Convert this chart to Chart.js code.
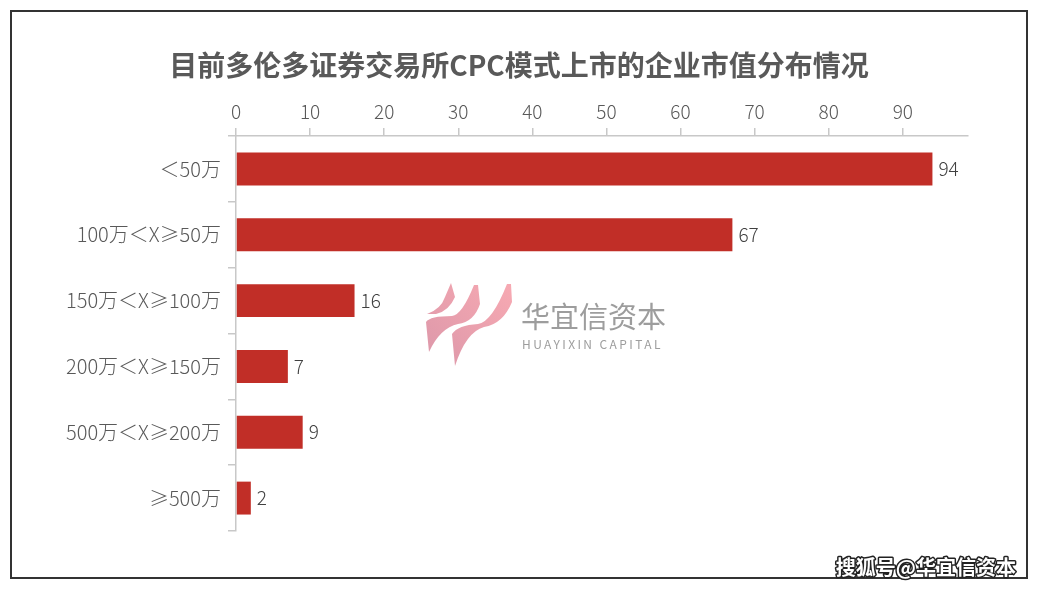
<!DOCTYPE html>
<html>
<head>
<meta charset="utf-8">
<script src="https://cdn.jsdelivr.net/npm/chart.js@4/dist/chart.umd.min.js"></script>
<style>
html,body{margin:0;padding:0;background:#fff;}
#wrap{width:1038px;height:590px;position:relative;}
</style>
</head>
<body>
<div id="wrap"><canvas id="c" width="1038" height="590"></canvas></div>
<script>
const chartTitle = '目前多伦多证券交易所CPC模式上市的企业市值分布情况';
const categories = ['＜50万', '100万＜X≥50万', '150万＜X≥100万', '200万＜X≥150万', '500万＜X≥200万', '≥500万'];
const values = [94, 67, 16, 7, 9, 2];
const axisMax = 98.8;
const tickStep = 10;
const watermarkCn = '华宜信资本';
const watermarkEn = 'HUAYIXIN CAPITAL';
const sourceMark = '搜狐号@华宜信资本';

const FONT = '"Noto Sans CJK SC", "Noto Sans", sans-serif';
const TEXT = '#595959';

function drawLogo(ctx) {
  const g = ctx.createLinearGradient(427, 366, 511, 284);
  g.addColorStop(0, 'rgba(216,140,160,0.9)');
  g.addColorStop(1, 'rgba(246,160,170,0.9)');
  ctx.fillStyle = g;
  // small top-left blade
  ctx.beginPath();
  ctx.moveTo(451, 283);
  ctx.lineTo(455, 297);
  ctx.quadraticCurveTo(449, 311, 436, 314);
  ctx.lineTo(427, 314);
  ctx.quadraticCurveTo(441, 309, 445, 297);
  ctx.closePath();
  ctx.fill();
  // middle wave
  ctx.beginPath();
  ctx.moveTo(426, 322);
  ctx.quadraticCurveTo(430, 316, 452, 316);
  ctx.quadraticCurveTo(462, 315, 474, 285);
  ctx.lineTo(478, 285);
  ctx.lineTo(480, 304);
  ctx.quadraticCurveTo(474, 322, 458, 324);
  ctx.quadraticCurveTo(440, 328, 429, 352);
  ctx.closePath();
  ctx.fill();
  // right wave
  ctx.beginPath();
  ctx.moveTo(452, 334);
  ctx.quadraticCurveTo(458, 325, 478, 324);
  ctx.quadraticCurveTo(492, 322, 507, 284);
  ctx.lineTo(511, 284);
  ctx.lineTo(512, 302);
  ctx.quadraticCurveTo(503, 324, 484, 327);
  ctx.quadraticCurveTo(466, 332, 455, 366);
  ctx.closePath();
  ctx.fill();
}

const decorPlugin = {
  id: 'decor',
  beforeDraw(chart) {
    const ctx = chart.ctx;
    ctx.save();
    ctx.fillStyle = '#fff';
    ctx.fillRect(0, 0, chart.width, chart.height);
    // title
    ctx.fillStyle = TEXT;
    ctx.font = 'bold 28px ' + FONT;
    ctx.textAlign = 'center';
    ctx.textBaseline = 'middle';
    ctx.fillText(chartTitle, 519, 65);
    // watermark
    drawLogo(ctx);
    ctx.fillStyle = 'rgba(140,140,140,0.85)';
    ctx.textAlign = 'left';
    ctx.font = '29px ' + FONT;
    ctx.fillText(watermarkCn, 521, 317);
    ctx.font = '12px ' + FONT;
    if ('letterSpacing' in ctx) ctx.letterSpacing = '2.4px';
    ctx.fillText(watermarkEn, 522, 344);
    if ('letterSpacing' in ctx) ctx.letterSpacing = '0px';
    ctx.restore();
  },
  afterDraw(chart) {
    const ctx = chart.ctx;
    ctx.save();
    ctx.strokeStyle = '#333';
    ctx.lineWidth = 2;
    ctx.strokeRect(11, 11, 1016, 567);
    ctx.font = 'bold 20px ' + FONT;
    ctx.textAlign = 'right';
    ctx.textBaseline = 'middle';
    ctx.lineWidth = 3;
    ctx.strokeStyle = '#222';
    ctx.lineJoin = 'round';
    ctx.strokeText(sourceMark, 1016, 567);
    ctx.fillStyle = '#fff';
    ctx.fillText(sourceMark, 1016, 567);
    ctx.restore();
  },
  afterDatasetsDraw(chart) {
    const ctx = chart.ctx;
    const meta = chart.getDatasetMeta(0);
    ctx.save();
    ctx.fillStyle = '#404040';
    ctx.font = '300 19px ' + FONT;
    ctx.textAlign = 'left';
    ctx.textBaseline = 'middle';
    meta.data.forEach((bar, i) => {
      ctx.fillText(String(values[i]), bar.x + 6, bar.y);
    });
    ctx.restore();
  }
};

new Chart(document.getElementById('c'), {
  type: 'bar',
  data: {
    labels: categories,
    datasets: [{
      data: values,
      backgroundColor: '#C12E27',
      borderWidth: 0,
      categoryPercentage: 1,
      barPercentage: 0.5
    }]
  },
  options: {
    indexAxis: 'y',
    responsive: false,
    animation: false,
    events: [],
    layout: { padding: { left: 12, right: 70, top: 90, bottom: 59 } },
    plugins: { legend: { display: false }, tooltip: { enabled: false }, title: { display: false } },
    scales: {
      x: {
        position: 'top',
        min: 0,
        max: axisMax,
        ticks: { stepSize: tickStep, includeBounds: false, color: TEXT, font: { family: FONT, size: 19, weight: '300' }, padding: 5 },
        grid: { drawOnChartArea: false, drawTicks: true, tickLength: 8, color: '#c8c8c8', lineWidth: 1.5 },
        border: { display: true, color: '#c8c8c8', width: 1.5 },
        afterFit(s) { s.height = 46; }
      },
      y: {
        ticks: { color: TEXT, font: { family: FONT, size: 20, weight: '300' }, padding: 7 },
        grid: { drawOnChartArea: false, drawTicks: true, tickLength: 8, color: '#c8c8c8', lineWidth: 1.5, offset: true },
        border: { display: true, color: '#c8c8c8', width: 1.5 },
        afterFit(s) { s.width = 224; }
      }
    }
  },
  plugins: [decorPlugin]
});
</script>
</body>
</html>
